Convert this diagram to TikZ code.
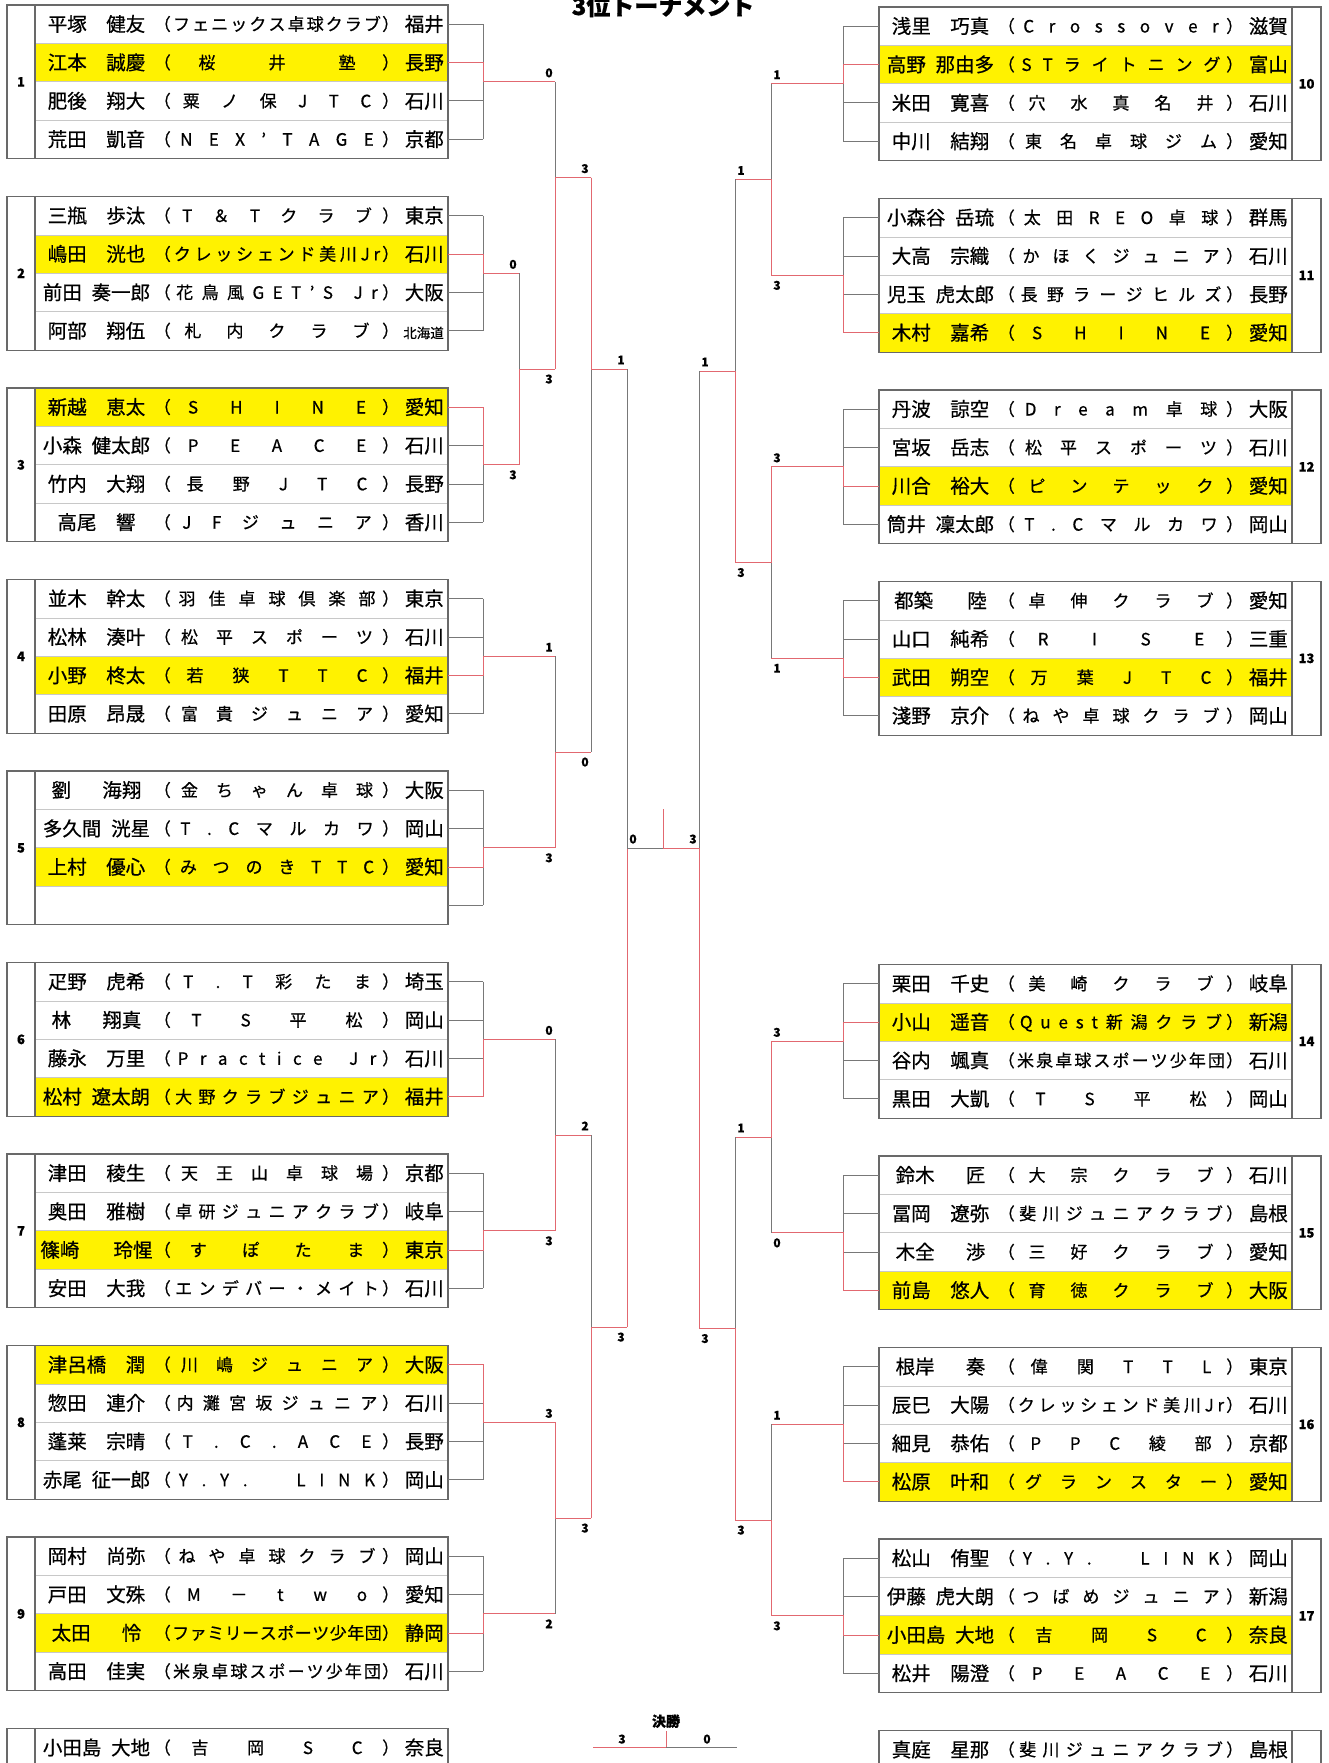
\documentclass[tikz,border=0pt]{standalone}
\usepackage{fontspec}
\usetikzlibrary{calc}
\newfontfamily\jp[FakeBold=0.6]{Noto Sans CJK JP}
\definecolor{linegray}{RGB}{120,120,120}
\definecolor{linered}{RGB}{226,104,112}
\definecolor{framegray}{RGB}{105,105,105}
\definecolor{rowgray}{RGB}{200,200,200}
\definecolor{hlyellow}{RGB}{255,242,0}
\newcommand{\gapS}{\hspace{0.5em}}
\newcommand{\gapL}{\hspace{1.6em}}
\newcommand{\gapX}{\hspace{1.75em}}
\newcommand{\hokkaido}{{\fontsize{13.5}{14}\selectfont 北海道}}

\ExplSyntaxOn
\NewDocumentCommand\spread{m}
 { \hbox_to_wd:nn {210pt} { \exp_args:No \tl_map_inline:nn {#1} { \hfil ##1 \hfil } } }
\ExplSyntaxOff

% one player row: id, left x of text area, centre y, name, club, prefecture
\newcommand{\prow}[6]{%
  \node[nm] (#1n) at (#2+61.5,#3) {#4};
  \node[paren,anchor=east] (#1a) at (#2+136,#3) {（};
  \node[club] (#1c) at (#2+242,#3) {\spread{#5}};
  \node[paren,anchor=west] (#1b) at (#2+347,#3) {）};
  \node[pref,anchor=east] (#1p) at (#2+409,#3) {#6};
}
% one block of four: id, side L/R, top y, winning row, out x, rows
\newcommand{\grp}[6]{%
  \ifx L#2\relax
    \def\xa{35}\def\xl{7}\def\xr{448}\def\xd{35}\def\xn{21}\def\xe{448}\def\xv{483}%
  \else
    \def\xa{879}\def\xl{879}\def\xr{1321}\def\xd{1292}\def\xn{1306.5}\def\xe{879}\def\xv{843}%
  \fi
  \fill[hilite] (\xa,#3+38.4*#4-38.4) rectangle ++(413,38.4);
  \foreach \kk in {1,2,3}{\draw[rowline] (\xa,#3+38.4*\kk) -- ++(413,0);}
  \draw[boxline] (\xl,#3) rectangle (\xr,#3+153.6);
  \draw[boxline] (\xd,#3) -- ++(0,153.6);
  \node[num] (n#1) at (\xn,#3+76.8) {#1};
  \foreach \ri/\nm/\cl/\pf in {#6}{%
    \pgfmathsetmacro\yc{#3+38.4*\ri-19.2}%
    \prow{g#1r\ri}{\xa}{\yc}{\nm}{\cl}{\pf}%
  }
  \foreach \kk in {1,2,3,4}{%
    \coordinate (g#1e\kk) at (\xe,#3+38.4*\kk-19.2);
    \coordinate (g#1v\kk) at (\xv,#3+38.4*\kk-19.2);
    \draw[ln] (g#1e\kk) -- (g#1v\kk);
  }
  \draw[ln] (g#1v1) -- (g#1v4);
  \coordinate (j#1) at (\xv,#3+76.8);
  \coordinate (o#1) at (#5,#3+76.8);
  \draw[win] (g#1e#4) -- (g#1v#4) -- (j#1) -- (o#1);
}
% a match: top, bottom, winner, id, x, out y, out x
\newcommand{\match}[7]{%
  \coordinate (j#4) at (#5,#6);
  \coordinate (o#4) at (#7,#6);
  \draw[ln] (#1) -- (#2);
  \draw[win] (#3) -- (j#4) -- (o#4);
}

\begin{document}
\begin{tikzpicture}[x=1pt,y=-1pt,
  nm/.style={font=\jp\fontsize{19.5}{20}\selectfont,inner sep=0pt,text height=15.4pt,text depth=1pt},
  pref/.style={nm},
  club/.style={font=\jp\fontsize{17}{18}\selectfont,inner sep=0pt,text height=13.6pt,text depth=1pt},
  paren/.style={club},
  num/.style={font=\jp\bfseries\fontsize{13}{13}\selectfont,inner sep=0pt,text height=9.5pt,text depth=0pt},
  sc/.style={font=\jp\bfseries\fontsize{12}{12}\selectfont,inner sep=0pt,text height=8.8pt,text depth=0pt},
  sa/.style={sc,xshift=-6pt,yshift=9pt},
  sb/.style={sc,xshift=-6pt,yshift=-10pt},
  ra/.style={sc,xshift=6pt,yshift=9pt},
  rb/.style={sc,xshift=6pt,yshift=-10pt},
  ln/.style={draw=linegray,line width=1pt},
  win/.style={draw=linered,line width=1pt},
  boxline/.style={draw=framegray,line width=1.2pt},
  rowline/.style={draw=rowgray,line width=0.8pt},
  hilite/.style={fill=hlyellow},
  ttl/.style={font=\jp\bfseries\fontsize{24}{24}\selectfont,inner sep=0pt}
]
\useasboundingbox (0,0) rectangle (1329,1763);
\fill[white] (0,0) rectangle (1329,1763);
\node[ttl,anchor=base] (title) at (663,15) {3位トーナメント};

% left blocks
\grp{1}{L}{5}{2}{555}{1/平塚　健友/フェニックス卓球クラブ/福井,2/江本　誠慶/桜井塾/長野,3/肥後　翔大/粟ノ保JTC/石川,4/荒田　凱音/NEX’TAGE/京都}
\grp{2}{L}{196.5}{2}{519}{1/三瓶　歩汰/T＆Tクラブ/東京,2/嶋田　洸也/クレッシェンド美川Jr/石川,3/前田\gapS 奏一郎/花鳥風GET’S{~}Jr/大阪,4/阿部　翔伍/札内クラブ/\hokkaido}
\grp{3}{L}{388}{1}{519}{1/新越　恵太/SHINE/愛知,2/小森\gapS 健太郎/PEACE/石川,3/竹内　大翔/長野JTC/長野,4/高尾　響/JFジュニア/香川}
\grp{4}{L}{579.5}{3}{555}{1/並木　幹太/羽佳卓球倶楽部/東京,2/松林　湊叶/松平スポーツ/石川,3/小野　柊太/若狭TTC/福井,4/田原　昂晟/富貴ジュニア/愛知}
\grp{5}{L}{771}{3}{555}{1/劉\gapL 海翔/金ちゃん卓球/大阪,2/多久間\gapS 洸星/T.Cマルカワ/岡山,3/上村　優心/みつのきTTC/愛知}
\grp{6}{L}{962.5}{4}{555}{1/疋野　虎希/T.T彩たま/埼玉,2/林\gapL 翔真/TS平松/岡山,3/藤永　万里/Practice{~}Jr/石川,4/松村\gapS 遼太朗/大野クラブジュニア/福井}
\grp{7}{L}{1154}{3}{555}{1/津田　稜生/天王山卓球場/京都,2/奥田　雅樹/卓研ジュニアクラブ/岐阜,3/篠崎\gapX 玲惺/すぽたま/東京,4/安田　大我/エンデバー・メイト/石川}
\grp{8}{L}{1345.5}{1}{555}{1/津呂橋　潤/川嶋ジュニア/大阪,2/惣田　連介/内灘宮坂ジュニア/石川,3/蓬莱　宗晴/T.C.ACE/長野,4/赤尾\gapS 征一郎/Y.Y.{~}{~}LINK/岡山}
\grp{9}{L}{1537}{3}{555}{1/岡村　尚弥/ねや卓球クラブ/岡山,2/戸田　文殊/M－two/愛知,3/太田\gapL 怜/ファミリースポーツ少年団/静岡,4/高田　佳実/米泉卓球スポーツ少年団/石川}

% right blocks
\grp{10}{R}{7}{2}{771}{1/浅里　巧真/Crossover/滋賀,2/高野\gapS 那由多/STライトニング/富山,3/米田　寛喜/穴水真名井/石川,4/中川　結翔/東名卓球ジム/愛知}
\grp{11}{R}{198.5}{4}{771}{1/小森谷\gapS 岳琉/太田REO卓球/群馬,2/大高　宗織/かほくジュニア/石川,3/児玉\gapS 虎太郎/長野ラージヒルズ/長野,4/木村　嘉希/SHINE/愛知}
\grp{12}{R}{390}{3}{771}{1/丹波　諒空/Dream卓球/大阪,2/宮坂　岳志/松平スポーツ/石川,3/川合　裕大/ピンテック/愛知,4/筒井\gapS 凜太郎/T.Cマルカワ/岡山}
\grp{13}{R}{581.5}{3}{771}{1/都築\gapX 陸/卓伸クラブ/愛知,2/山口　純希/RISE/三重,3/武田　朔空/万葉JTC/福井,4/淺野　京介/ねや卓球クラブ/岡山}
\grp{14}{R}{964.5}{2}{771}{1/栗田　千史/美崎クラブ/岐阜,2/小山　遥音/Quest新潟クラブ/新潟,3/谷内　颯真/米泉卓球スポーツ少年団/石川,4/黒田　大凱/TS平松/岡山}
\grp{15}{R}{1156}{4}{771}{1/鈴木\gapL 匠/大宗クラブ/石川,2/冨岡　遼弥/斐川ジュニアクラブ/島根,3/木全\gapL 渉/三好クラブ/愛知,4/前島　悠人/育徳クラブ/大阪}
\grp{16}{R}{1347.5}{4}{771}{1/根岸\gapL 奏/偉関TTL/東京,2/辰巳　大陽/クレッシェンド美川Jr/石川,3/細見　恭佑/PPC綾部/京都,4/松原　叶和/グランスター/愛知}
\grp{17}{R}{1539}{3}{771}{1/松山　侑聖/Y.Y.{~}{~}LINK/岡山,2/伊藤\gapS 虎大朗/つばめジュニア/新潟,3/小田島\gapS 大地/吉岡SC/奈良,4/松井　陽澄/PEACE/石川}

% blocks cut by the page edge
\draw[boxline] (7,1728.5) rectangle (448,1800);
\draw[boxline] (35,1728.5) -- (35,1800);
\draw[rowline] (35,1766.9) -- (448,1766.9);
\prow{tl}{35}{1747.7}{小田島\gapS 大地}{吉岡SC}{奈良}
\draw[boxline] (879,1730.5) rectangle (1321,1800);
\draw[boxline] (1292,1730.5) -- (1292,1800);
\draw[rowline] (879,1768.9) -- (1292,1768.9);
\prow{tr}{879}{1749.7}{真庭　星那}{斐川ジュニアクラブ}{島根}

% left half
\match{o2}{o3}{o3}{L23}{519}{369}{555}
\match{o1}{oL23}{oL23}{L123}{555}{177.6}{591}
\match{o4}{o5}{o5}{L45}{555}{752}{591}
\match{oL123}{oL45}{oL123}{LT}{591}{369}{627}
\match{o6}{o7}{o7}{L67}{555}{1135}{591}
\match{o8}{o9}{o8}{L89}{555}{1518}{591}
\match{oL67}{oL89}{oL89}{LB}{591}{1327}{627}
% right half
\match{o10}{o11}{o11}{R1011}{771}{179.5}{735}
\match{o12}{o13}{o12}{R1213}{771}{562.5}{735}
\match{oR1011}{oR1213}{oR1213}{RT}{735}{371}{699}
\match{o14}{o15}{o14}{R1415}{771}{1137}{735}
\match{o16}{o17}{o17}{R1617}{771}{1520}{735}
\match{oR1415}{oR1617}{oR1617}{RB}{735}{1328.5}{699}

% centre
\coordinate (cL) at (627,848);
\coordinate (cM) at (663,848);
\coordinate (cR) at (699,848);
\coordinate (cT) at (663,809);
\draw[ln] (oLT) -- (oLB);
\draw[win] (oLB) -- (cL);
\draw[ln] (oRT) -- (oRB);
\draw[win] (oRB) -- (cR);
\draw[ln] (cL) -- (cM);
\draw[win] (cM) -- (cR);
\draw[win] (cM) -- (cT);

% scores
\node[sa] (s1) at (o1) {0};
\node[sa] (s2) at (o2) {0};
\node[sb] (s3) at (o3) {3};
\node[sa] (s4) at (o4) {1};
\node[sb] (s5) at (o5) {3};
\node[sa] (s6) at (o6) {0};
\node[sb] (s7) at (o7) {3};
\node[sa] (s8) at (o8) {3};
\node[sb] (s9) at (o9) {2};
\node[sb] (sL23) at (oL23) {3};
\node[sa] (sL123) at (oL123) {3};
\node[sb] (sL45) at (oL45) {0};
\node[sa] (sLT) at (oLT) {1};
\node[sa] (sL67) at (oL67) {2};
\node[sb] (sL89) at (oL89) {3};
\node[sb] (sLB) at (oLB) {3};
\node[ra] (s10) at (o10) {1};
\node[rb] (s11) at (o11) {3};
\node[ra] (s12) at (o12) {3};
\node[rb] (s13) at (o13) {1};
\node[ra] (s14) at (o14) {3};
\node[rb] (s15) at (o15) {0};
\node[ra] (s16) at (o16) {1};
\node[rb] (s17) at (o17) {3};
\node[ra] (sR1011) at (oR1011) {1};
\node[rb] (sR1213) at (oR1213) {3};
\node[ra] (sRT) at (oRT) {1};
\node[ra] (sR1415) at (oR1415) {1};
\node[rb] (sR1617) at (oR1617) {3};
\node[rb] (sRB) at (oRB) {3};
\node[ra] (sCL) at (cL) {0};
\node[sa] (sCR) at (cR) {3};

% final
\node[sc,font=\jp\bfseries\fontsize{14}{14}\selectfont,text height=11pt] (final) at (666,1721) {決勝};
\coordinate (fL) at (593,1747);
\coordinate (fM) at (666,1747);
\coordinate (fR) at (737,1747);
\coordinate (fT) at (666,1731);
\draw[win] (fL) -- (fM);
\draw[ln] (fM) -- (fR);
\draw[win] (fM) -- (fT);
\node[sc] (sF1) at (622,1739) {3};
\node[sc] (sF2) at (707,1739) {0};
\end{tikzpicture}
\end{document}
